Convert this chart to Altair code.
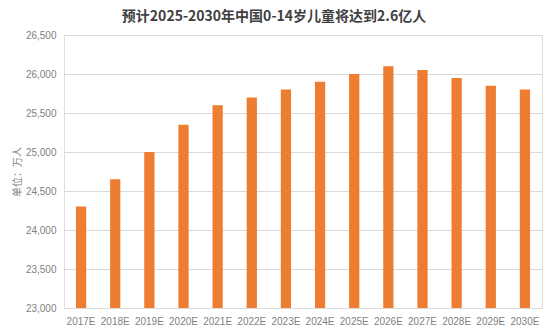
import altair as alt
import pandas as pd

years = ["2017E", "2018E", "2019E", "2020E", "2021E", "2022E", "2023E",
         "2024E", "2025E", "2026E", "2027E", "2028E", "2029E", "2030E"]
values = [24300, 24650, 25000, 25350, 25600, 25700, 25800,
          25900, 26000, 26100, 26050, 25950, 25850, 25800]
y_ticks = [23000, 23500, 24000, 24500, 25000, 25500, 26000, 26500]

df = pd.DataFrame({"year": years, "value": values})

font = "Liberation Sans"

chart = alt.Chart(df).mark_bar(color="#ED7D31").encode(
    x=alt.X("year:N", sort=years,
            scale=alt.Scale(paddingInner=0.7, paddingOuter=0.35),
            axis=alt.Axis(title=None, labelAngle=0, labelFont=font, labelFontSize=10,
                          labelColor="#7f7f7f", ticks=False, domain=False,
                          labelPadding=8)),
    y=alt.Y("value:Q",
            scale=alt.Scale(domain=[23000, 26500], zero=False, nice=False),
            axis=alt.Axis(title="单位：万人", values=y_ticks, format=",d",
                          labelFont=font, labelFontSize=10, labelColor="#7f7f7f",
                          titleFont="Noto Sans CJK SC", titleFontSize=10,
                          titleFontWeight="normal", titleColor="#7f7f7f",
                          titlePadding=3,
                          ticks=False, domain=False, labelPadding=8,
                          gridColor="#d9d9d9", gridWidth=1)),
    y2=alt.datum(23000),
).properties(
    width=478,
    height=273,
    title=alt.TitleParams(
        "预计2025-2030年中国0-14岁儿童将达到2.6亿人",
        font="Noto Sans CJK SC", fontSize=14, fontWeight="bold",
        color="#404040", anchor="middle", dx=-29, offset=6,
    ),
    autosize=alt.AutoSizeParams(type="none"),
    padding={"left": 64, "top": 35, "right": 8, "bottom": 22},
).configure_view(stroke=None).configure(background="white")

chart.save("out.html", embed_options={"renderer": "svg", "actions": False})
